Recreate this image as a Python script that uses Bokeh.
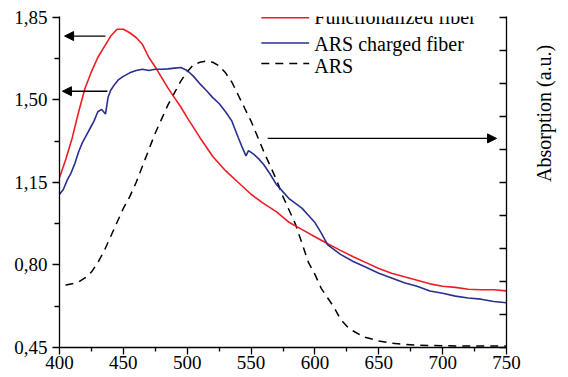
import math
from bokeh.plotting import figure
from bokeh.models import (Range1d, LinearAxis, FixedTicker, Arrow, NormalHead,
                          CustomLabelingPolicy)
from bokeh.core.properties import value
from bokeh.embed import file_html
from bokeh.resources import INLINE

# ---------------- data ----------------
func_x = [400, 405, 410, 415, 420, 425, 430, 435, 440, 445, 450, 455, 460, 465, 470,
          475, 480, 485, 490, 495, 500, 510, 520, 530, 540, 550, 560, 570, 580, 590,
          600, 610, 620, 630, 640, 650, 660, 670, 680, 690, 700, 710, 720, 730, 740, 750]
func_y = [1.17, 1.25, 1.34, 1.45, 1.55, 1.62, 1.68, 1.725, 1.77, 1.80, 1.80, 1.785, 1.765,
          1.735, 1.68, 1.64, 1.595, 1.55, 1.51, 1.47, 1.425, 1.34, 1.26, 1.20, 1.15, 1.10,
          1.06, 1.025, 0.98, 0.95, 0.92, 0.89, 0.862, 0.835, 0.81, 0.785, 0.765, 0.75,
          0.735, 0.72, 0.71, 0.705, 0.697, 0.695, 0.695, 0.69]

ars_fiber_x = [400, 403, 406, 409, 412, 415, 418, 421, 424, 427, 430, 433, 436, 438, 440,
               443, 446, 450, 455, 460, 465, 470, 475, 480, 485, 490, 495, 500, 505, 510,
               515, 520, 525, 530, 535, 540, 543, 546, 548, 552, 556, 560, 565, 570, 575,
               580, 585, 590, 595, 600, 605, 610, 615, 620, 630, 640, 650, 660, 670, 680,
               690, 700, 710, 720, 730, 740, 750]
ars_fiber_y = [1.10, 1.12, 1.16, 1.19, 1.23, 1.28, 1.32, 1.35, 1.38, 1.41, 1.45, 1.46, 1.44,
               1.51, 1.54, 1.565, 1.585, 1.60, 1.615, 1.625, 1.63, 1.625, 1.63, 1.63, 1.632,
               1.635, 1.638, 1.625, 1.60, 1.568, 1.54, 1.51, 1.485, 1.45, 1.41, 1.34, 1.30,
               1.263, 1.285, 1.27, 1.25, 1.225, 1.185, 1.14, 1.11, 1.08, 1.06, 1.04, 1.01,
               0.98, 0.935, 0.885, 0.865, 0.845, 0.815, 0.79, 0.765, 0.745, 0.725, 0.71,
               0.69, 0.68, 0.668, 0.66, 0.655, 0.645, 0.64]

ars_x = [400, 405, 410, 415, 420, 425, 430, 435, 440, 445, 450, 455, 460, 465, 470, 475,
         480, 485, 490, 495, 500, 505, 510, 515, 520, 525, 530, 535, 540, 545, 550, 555,
         560, 565, 570, 575, 580, 585, 590, 595, 600, 605, 610, 615, 620, 625, 630, 635,
         640, 650, 660, 670, 680, 700, 750]
ars_y = [0.715, 0.715, 0.72, 0.728, 0.745, 0.77, 0.81, 0.86, 0.92, 0.98, 1.04, 1.09, 1.15,
         1.22, 1.29, 1.36, 1.42, 1.48, 1.53, 1.58, 1.62, 1.65, 1.66, 1.665, 1.66, 1.645,
         1.615, 1.575, 1.52, 1.465, 1.41, 1.345, 1.28, 1.22, 1.16, 1.09, 1.03, 0.97, 0.89,
         0.81, 0.76, 0.70, 0.66, 0.62, 0.57, 0.54, 0.52, 0.505, 0.492, 0.478, 0.468, 0.463,
         0.46, 0.457, 0.456]

series_names = ["Functionalized fiber", "ARS charged fiber", "ARS"]
series_colors = ["#ee1c25", "#2b2f8f", "#000000"]

x_ticks = [400, 450, 500, 550, 600, 650, 700, 750]
x_minor = [425, 475, 525, 575, 625, 675, 725]
y_ticks = [0.45, 0.80, 1.15, 1.50, 1.85]
y_tick_labels = ["0,45", "0,80", "1,15", "1,50", "1,85"]
y_minor = [0.625, 0.975, 1.325, 1.675]
right_ticks = [0.0, 0.1, 0.2, 0.3, 0.4, 0.5, 0.6, 0.7, 0.8, 0.9, 1.0]
right_label = "Absorption (a.u.)"

# legend layout (data units)
legend_line_x = [558.0, 595.5]
legend_line_y = [1.849, 1.742, 1.655]
legend_text_x = 599.5
legend_text_y = [1.854, 1.739, 1.644]

# arrows (data units): start x, end x, y
arrow_x0 = [436.0, 437.5, 563.0]
arrow_x1 = [404.0, 402.3, 742.2]
arrow_y = [1.771, 1.537, 1.337]

FONT = "Liberation Serif"

p = figure(width=568, height=377, output_backend="svg", toolbar_location=None,
           x_range=Range1d(400, 750), y_range=Range1d(0.45, 1.854),
           min_border_left=59, min_border_right=60, min_border_top=16, min_border_bottom=30,
           x_axis_location=None, y_axis_location=None)
p.outline_line_color = None
p.xgrid.visible = False
p.ygrid.visible = False
p.background_fill_color = "white"
p.border_fill_color = "white"

# axes
xa = LinearAxis(ticker=FixedTicker(ticks=x_ticks, minor_ticks=x_minor))
xa.major_tick_out = 7
xa.major_tick_in = 0
xa.minor_tick_out = 4
xa.minor_tick_in = 0
xa.major_label_standoff = 1
xa.major_label_text_font = FONT
xa.major_label_text_font_size = "19px"
xa.major_label_text_color = "black"
xa.axis_line_width = 1.3
xa.major_tick_line_width = 1.3
xa.minor_tick_line_width = 1.3
p.add_layout(xa, "below")

ya = LinearAxis(ticker=FixedTicker(ticks=y_ticks, minor_ticks=y_minor))
ya.major_label_overrides = {t: l for t, l in zip(y_ticks, y_tick_labels)}
ya.major_tick_out = 7
ya.major_tick_in = 0
ya.minor_tick_out = 5
ya.minor_tick_in = 0
ya.major_label_standoff = 5
ya.major_label_text_font = FONT
ya.major_label_text_font_size = "19px"
ya.major_label_text_color = "black"
ya.axis_line_width = 1.3
ya.major_tick_line_width = 1.3
ya.minor_tick_line_width = 1.3
p.add_layout(ya, "left")

p.extra_y_ranges = {"right": Range1d(0, 1.004)}
ra = LinearAxis(y_range_name="right", ticker=FixedTicker(ticks=right_ticks, minor_ticks=[]))
ra.major_tick_in = 7
ra.major_tick_out = 0
ra.minor_tick_in = 0
ra.minor_tick_out = 0
ra.major_label_text_font_size = "0px"
ra.major_label_standoff = 0
ra.major_label_policy = CustomLabelingPolicy(code="""
try {
  const all = [...indices];
  for (const i of all) indices.unset(i);
} catch (e) {}
return indices
""")
ra.axis_line_width = 1.3
ra.major_tick_line_width = 1.3
ra.axis_label = right_label
ra.axis_label_text_font = FONT
ra.axis_label_text_font_size = "20px"
ra.axis_label_text_font_style = "normal"
ra.axis_label_text_color = "black"
ra.axis_label_standoff = 37
if "axis_label_orientation" in ra.properties():
    ra.axis_label_orientation = math.pi / 2
p.add_layout(ra, "right")

# curves
p.line(ars_x, ars_y, line_color=series_colors[2], line_width=1.5, line_dash="8 6",
       line_dash_offset=8)
p.line(func_x, func_y, line_color=series_colors[0], line_width=1.6)
p.line(ars_fiber_x, ars_fiber_y, line_color=series_colors[1], line_width=1.6)

# legend (drawn inside the frame; the top row is cut by the frame edge as in the reference)
for i in range(3):
    p.line(legend_line_x, [legend_line_y[i]] * 2, line_color=series_colors[i],
           line_width=1.5, line_dash=("8 6" if i == 2 else "solid"))
p.text(x=[legend_text_x] * 3, y=legend_text_y, text=series_names,
       text_font=value(FONT), text_font_size="20px", text_color="black",
       text_baseline="alphabetic", text_align="left")

# arrows
for x0, x1, yy in zip(arrow_x0, arrow_x1, arrow_y):
    p.add_layout(Arrow(x_start=x0, y_start=yy, x_end=x1, y_end=yy, line_width=1.3,
                       line_color="black",
                       end=NormalHead(size=9, fill_color="black", line_color="black")))

open("out.html", "w").write(file_html(p, INLINE))
